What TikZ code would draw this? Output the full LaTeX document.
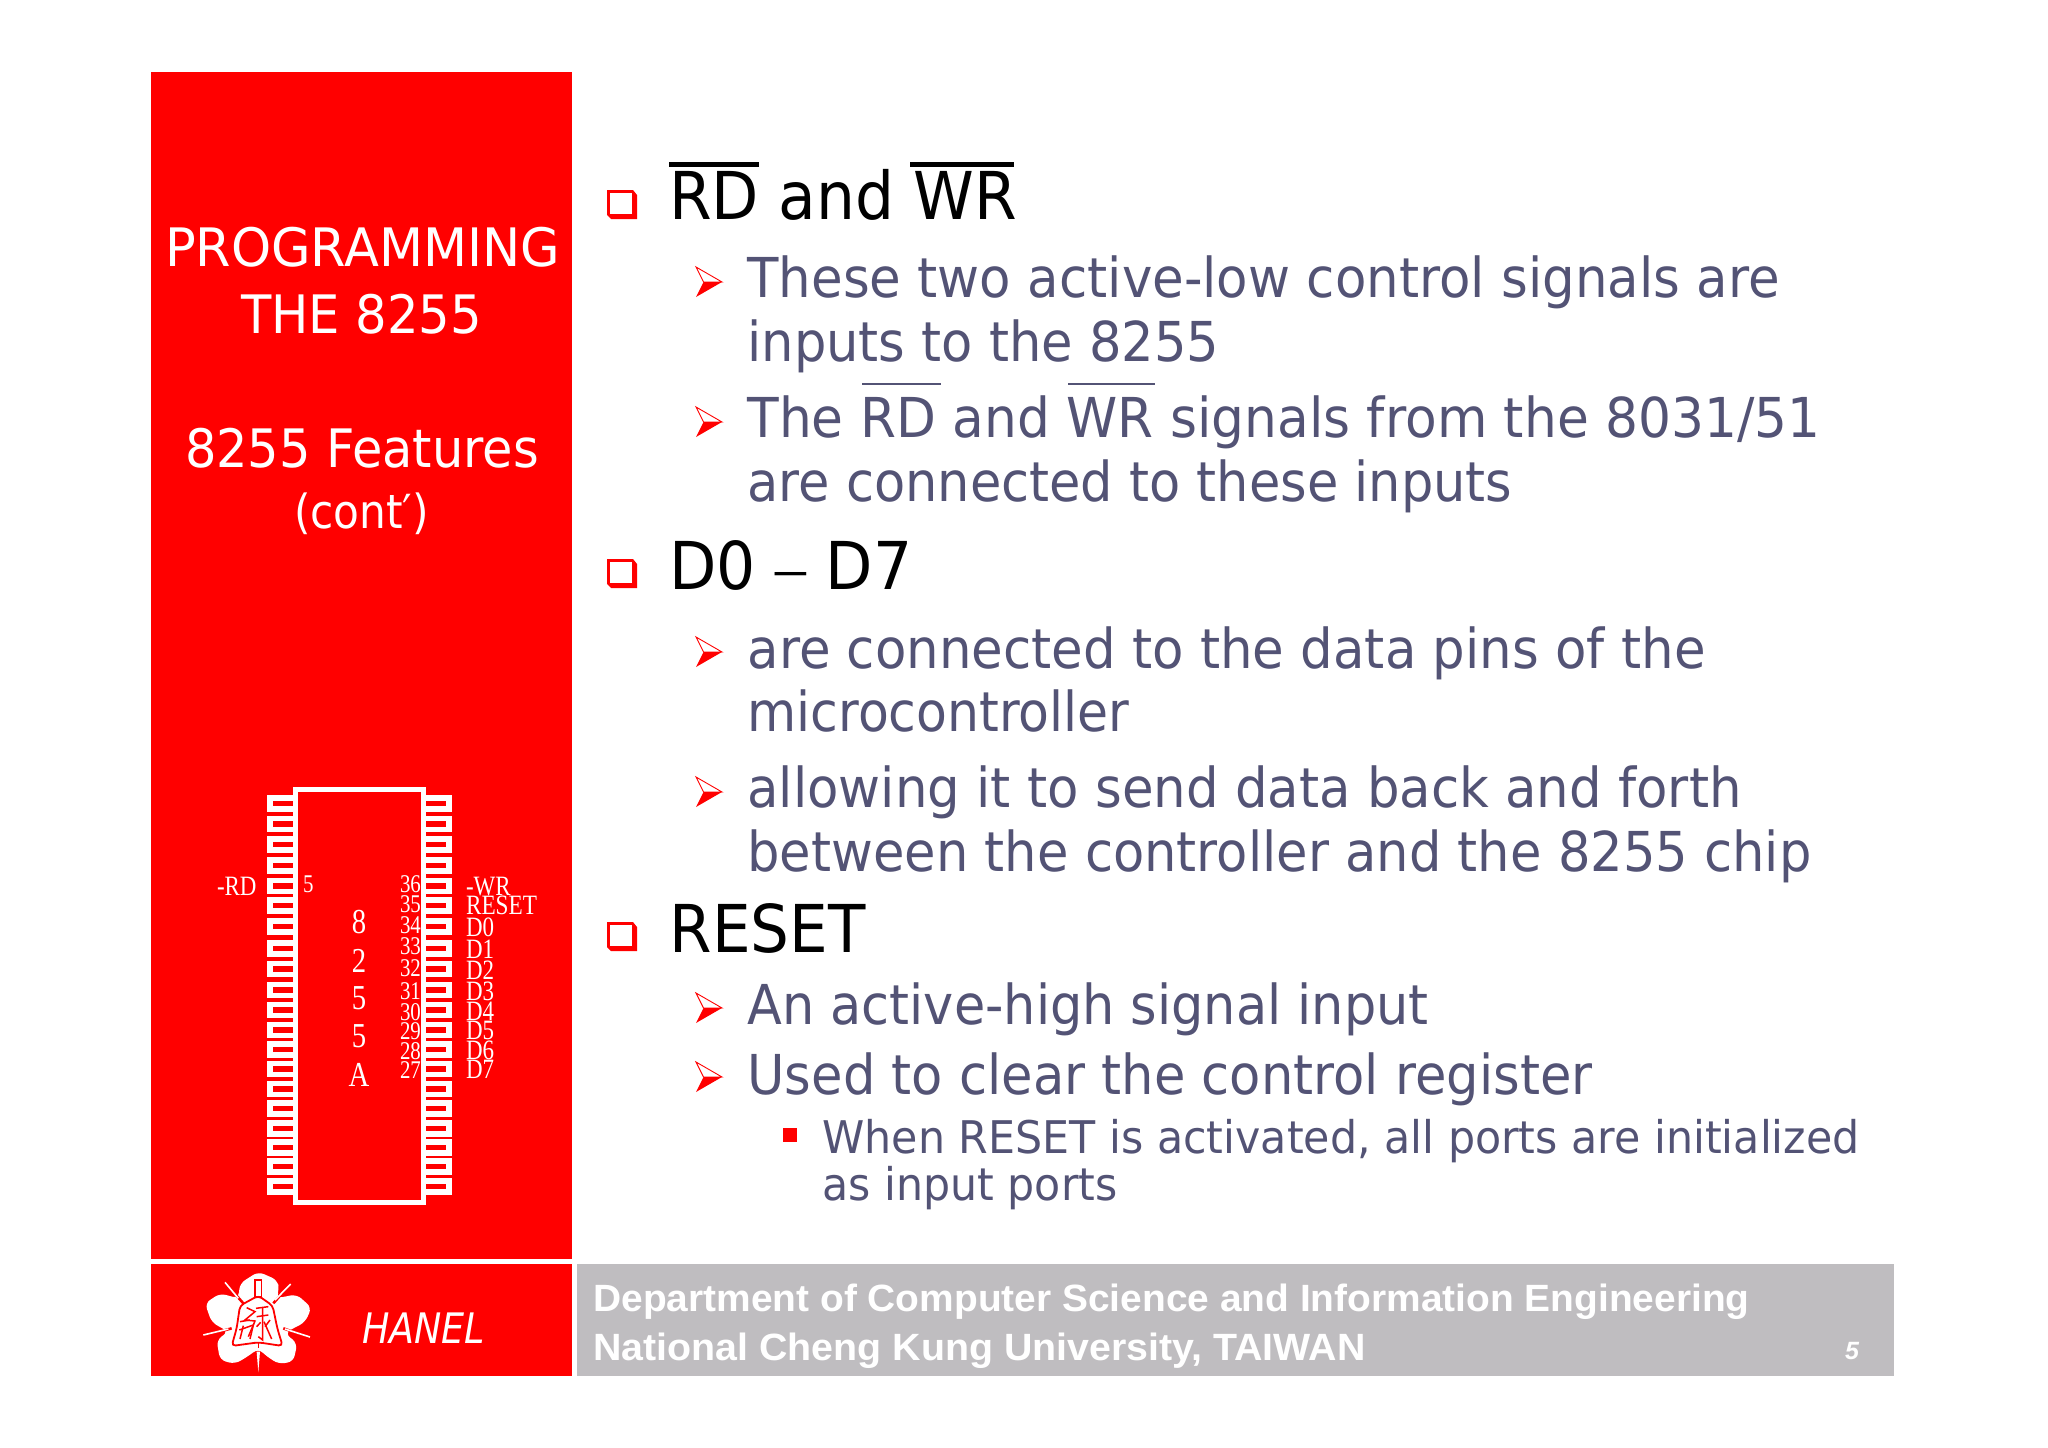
\documentclass[tikz,border=0pt]{standalone}
\usepackage{fontspec}
\usepackage{graphicx}
\setmainfont{DejaVu Sans}
\newfontfamily\chipfont[FakeStretch=0.82]{Liberation Serif}
\newfontfamily\plainserif{Liberation Serif}
\newfontfamily\footfont{Liberation Sans}
\definecolor{hanelred}{HTML}{FF0000}
\definecolor{slate}{HTML}{535375}
\definecolor{footgray}{HTML}{BFBDC0}
\newcommand{\fitw}[2]{\resizebox{#1pt}{\height}{#2}}
\newcommand{\sqbul}[1]{%
  \fill[hanelred] (607,#1) -- (633,#1) -- (637,#1+5) -- (637,#1+29) -- (611,#1+29) -- (607,#1+25) -- cycle;
  \fill[white] (609.5,#1+2.5) rectangle (632,#1+24);
}
\newcommand{\arrowbul}[1]{%
  \fill[white,draw=hanelred,line width=0.9pt] (696,#1-15) -- (722,#1) -- (703.5,#1) -- cycle;
  \fill[hanelred] (703.5,#1) -- (722,#1) -- (696,#1+15) -- cycle;
}
\tikzset{
  every node/.style={inner sep=0pt,outer sep=0pt},
  head/.style={anchor=base west,text=black,font=\fontsize{66}{66}\selectfont},
  body/.style={anchor=base west,text=slate,font=\fontsize{55}{55}\selectfont},
  small/.style={anchor=base west,text=slate,font=\fontsize{45}{45}\selectfont},
  side/.style={anchor=base west,text=white,font=\fontsize{53}{53}\selectfont},
  foot/.style={anchor=base west,text=white,font=\footfont\bfseries\fontsize{38}{38}\selectfont},
  pinnum/.style={anchor=base west,text=white,font=\chipfont\fontsize{25.5}{25.5}\selectfont},
  pinlab/.style={anchor=base west,text=white,font=\chipfont\fontsize{28}{28}\selectfont},
  chipname/.style={anchor=base,text=white,font=\chipfont\fontsize{35}{35}\selectfont},
}
\begin{document}
\begin{tikzpicture}[x=1pt,y=-1pt]
\useasboundingbox (0,0) rectangle (2048,1448);
\fill[white] (0,0) rectangle (2048,1448);
% panels
\fill[hanelred] (151,72) rectangle (572,1259);
\fill[hanelred] (151,1263.5) rectangle (572,1376);
\fill[footgray] (577,1263.5) rectangle (1894,1376);
% sidebar text
\node[side] (s1) at (165,266) {\fitw{395}{PROGRAMMING}};
\node[side] (s2) at (241,333) {\fitw{241}{THE 8255}};
\node[side] (s3) at (185,467) {\fitw{354}{8255 Features}};
\node[side,font=\fontsize{47}{47}\selectfont] (s4) at (294,528) {\fitw{135}{(cont′)}};
% chip pins
\foreach \v in {100,162,224,286,348,407,469,535,597,660,720,780,838,897,957,1015,1075,1132,1190,1250}{
  \fill[white] (267,770+\v/3-8.3) rectangle (293,770+\v/3+8.3);
  \fill[hanelred] (273,770+\v/3-2.8) rectangle (293,770+\v/3+2.8);
  \fill[white] (426,770+\v/3-8.3) rectangle (452,770+\v/3+8.3);
  \fill[hanelred] (426,770+\v/3-2.8) rectangle (446,770+\v/3+2.8);
}
\draw[white,line width=5.5pt,fill=hanelred] (295.7,789.7) rectangle (423.3,1202.3);
% chip labels
\node[pinlab] (rd) at (217,895) {-RD};
\node[pinnum] (p5) at (303,892) {5};
\node[pinnum] (p36) at (400,892) {36};
\node[pinnum] (p35) at (400,912) {35};
\node[pinnum] (p34) at (400,933) {34};
\node[pinnum] (p33) at (400,954) {33};
\node[pinnum] (p32) at (400,976) {32};
\node[pinnum] (p31) at (400,999) {31};
\node[pinnum] (p30) at (400,1020) {30};
\node[pinnum] (p29) at (400,1039) {29};
\node[pinnum] (p28) at (400,1059) {28};
\node[pinnum] (p27) at (400,1078) {27};
\node[pinlab] (lwr) at (466,895) {-WR};
\node[pinlab] (lrs) at (466,914) {\fitw{71}{RESET}};
\node[pinlab] (ld0) at (466,936) {D0};
\node[pinlab] (ld1) at (466,958) {D1};
\node[pinlab] (ld2) at (466,979) {D2};
\node[pinlab] (ld3) at (466,1000) {D3};
\node[pinlab] (ld4) at (466,1020) {D4};
\node[pinlab] (ld5) at (466,1039) {D5};
\node[pinlab] (ld6) at (466,1059) {D6};
\node[pinlab] (ld7) at (466,1078) {D7};
\node[chipname] (c1) at (359,933) {8};
\node[chipname] (c2) at (359,972) {2};
\node[chipname] (c3) at (359,1009) {5};
\node[chipname] (c4) at (359,1047) {5};
\node[chipname] (c5) at (359,1086) {A};
% logo
\begin{scope}[shift={(190,1265)},x=0.3333pt,y=-0.3333pt]
  \fill[white,rounded corners=6pt] (205,20) -- (262,45) -- (268,75) -- (258,100) -- (320,88) -- (365,128) -- (345,172) -- (300,195) -- (285,205) -- (322,235) -- (310,290) -- (265,297) -- (225,270) -- (205,250) -- (180,270) -- (135,297) -- (90,285) -- (80,225) -- (115,200) -- (65,172) -- (45,115) -- (90,85) -- (145,100) -- (150,55) -- cycle;
  \draw[hanelred,line width=2.6pt] (125,75) -- (160,115);
  \draw[hanelred,line width=2.6pt] (285,75) -- (250,115);
  \draw[hanelred,line width=2.6pt] (70,205) -- (125,190);
  \draw[hanelred,line width=2.6pt] (335,210) -- (280,190);
  \draw[white,line width=1.6pt] (105,52) -- (145,100);
  \draw[white,line width=1.6pt] (302,57) -- (255,105);
  \draw[white,line width=1.6pt] (40,210) -- (115,192);
  \draw[white,line width=1.6pt] (360,216) -- (285,192);
  \fill[white] (200,260) -- (210,260) -- (205,322) -- cycle;
  \draw[hanelred,line width=1.6pt,fill=white] (195,95) -- (195,45) -- (215,45) -- (215,95) -- cycle;
  \draw[hanelred,line width=1.8pt,fill=white,rounded corners=4pt] (150,122) -- (205,92) -- (248,122) -- (262,190) -- (278,243) -- (205,232) -- (125,243) -- (140,190) -- cycle;
  \draw[hanelred,line width=1.5pt] (205,232) -- (205,250);
  \draw[hanelred,line width=1.5pt] (170,128) -- (195,140) -- (165,165) -- (195,168) -- (175,215);
  \draw[hanelred,line width=1.5pt] (150,170) -- (180,165);
  \draw[hanelred,line width=1.5pt] (148,195) -- (190,180) -- (180,222);
  \draw[hanelred,line width=1.5pt] (160,182) -- (150,222);
  \draw[hanelred,line width=1.5pt] (198,130) -- (235,125);
  \draw[hanelred,line width=1.5pt] (200,155) -- (235,150);
  \draw[hanelred,line width=1.5pt] (218,128) -- (218,225) -- (205,215);
  \draw[hanelred,line width=1.5pt] (200,185) -- (212,172);
  \draw[hanelred,line width=1.5pt] (222,170) -- (245,222);
  \draw[hanelred,line width=1.5pt] (240,165) -- (225,185);
\end{scope}
\node[anchor=base west,text=white,font=\itshape\fontsize{42}{42}\selectfont] (hanel) at (362,1343) {\fitw{123}{HANEL}};
% footer
\node[foot] (f1) at (593.5,1311) {\fitw{1156}{Department of Computer Science and Information Engineering}};
\node[foot] (f2) at (593.5,1360) {\fitw{772}{National Cheng Kung University, TAIWAN}};
\node[anchor=base west,text=white,font=\footfont\bfseries\itshape\fontsize{25}{25}\selectfont] (fn) at (1845,1359) {5};
% bullets
\sqbul{190}
\sqbul{559}
\sqbul{922}
\arrowbul{282}
\arrowbul{422}
\arrowbul{652}
\arrowbul{792}
\arrowbul{1008}
\arrowbul{1077}
\fill[hanelred] (783,1128) rectangle (797,1142);
% main text
\node[head] (h1) at (669,219) {\fitw{348}{RD and WR}};
\draw[black,line width=5pt] (669,164.5) -- (759,164.5);
\draw[black,line width=5pt] (910,164.5) -- (1014,164.5);
\node[body] (b1) at (747.5,297) {\fitw{1032}{These two active-low control signals are}};
\node[body] (b2) at (747.5,361) {\fitw{472}{inputs to the 8255}};
\node[body] (b3) at (747.5,437) {\fitw{1073}{The RD and WR signals from the 8031/51}};
\draw[slate,line width=2.4pt] (862,384) -- (941,384);
\draw[slate,line width=2.4pt] (1068,384) -- (1155,384);
\node[body] (b4) at (747.5,501) {\fitw{765}{are connected to these inputs}};
\node[head] (h2) at (669.5,589) {\fitw{243}{D0 {\plainserif –} D7}};
\node[body] (b5) at (747.5,668) {\fitw{958}{are connected to the data pins of the}};
\node[body] (b6) at (747.5,731) {\fitw{382}{microcontroller}};
\node[body] (b7) at (747.5,807.5) {\fitw{994}{allowing it to send data back and forth}};
\node[body] (b8) at (747.5,871) {\fitw{1064}{between the controller and the 8255 chip}};
\node[head] (h3) at (669.5,952) {\fitw{196}{RESET}};
\node[body] (b9) at (747.5,1024) {\fitw{681}{An active-high signal input}};
\node[body] (b10) at (747.5,1094) {\fitw{845}{Used to clear the control register}};
\node[small] (c1t) at (822.5,1153) {\fitw{1037}{When RESET is activated, all ports are initialized}};
\node[small] (c2t) at (822.5,1200) {\fitw{295}{as input ports}};
\end{tikzpicture}
\end{document}
